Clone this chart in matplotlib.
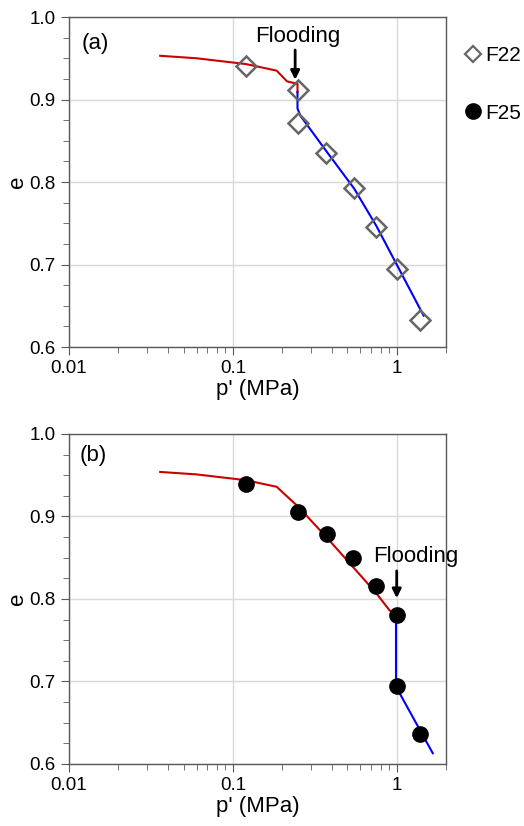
import matplotlib
matplotlib.use("Agg")
import matplotlib.pyplot as plt
from matplotlib.lines import Line2D
from matplotlib.ticker import FixedLocator, MultipleLocator, NullFormatter, FuncFormatter

plt.rcParams["font.family"] = ["Liberation Sans", "DejaVu Sans"]

# panel (a): test F22, flooding at p' = 0.25 MPa
f22_p = [0.12, 0.25, 0.25, 0.37, 0.55, 0.75, 1.0, 1.38]
f22_e = [0.941, 0.911, 0.872, 0.835, 0.793, 0.745, 0.694, 0.633]
a_dry_p = [0.036, 0.06, 0.12, 0.185, 0.214, 0.248, 0.248]
a_dry_e = [0.953, 0.950, 0.943, 0.935, 0.922, 0.919, 0.909]
a_wet_p = [0.248, 0.248, 0.259, 0.37, 0.55, 0.75, 1.0, 1.46]
a_wet_e = [0.909, 0.889, 0.880, 0.838, 0.792, 0.747, 0.700, 0.638]

# panel (b): test F25, flooding at p' = 1.0 MPa
f25_p = [0.12, 0.25, 0.376, 0.54, 0.75, 1.0, 1.0, 1.38]
f25_e = [0.939, 0.906, 0.879, 0.850, 0.816, 0.781, 0.694, 0.636]
b_dry_p = [0.036, 0.06, 0.12, 0.185, 0.25, 0.376, 0.54, 0.75, 0.906, 0.99]
b_dry_e = [0.954, 0.951, 0.944, 0.936, 0.912, 0.874, 0.839, 0.807, 0.786, 0.782]
b_wet_p = [0.99, 0.99, 1.04, 1.66]
b_wet_e = [0.782, 0.694, 0.686, 0.613]

RED = "#cc0000"
BLUE = "#0000ff"

fig = plt.figure(figsize=(5.24, 8.26), dpi=100)
ax_a = fig.add_axes([0.1317, 0.5799, 0.7195, 0.3995])
ax_b = fig.add_axes([0.1317, 0.0751, 0.7195, 0.3995])


def style_axes(ax):
    ax.set_xscale("log")
    ax.set_xlim(0.01, 2)
    ax.set_ylim(0.6, 1.0)
    ax.xaxis.set_major_locator(FixedLocator([0.01, 0.1, 1]))
    ax.xaxis.set_major_formatter(FuncFormatter(lambda v, _: f"{v:g}"))
    ax.xaxis.set_minor_locator(FixedLocator([k * 0.01 for k in range(2, 10)] + [k * 0.1 for k in range(2, 10)] + [2]))
    ax.xaxis.set_minor_formatter(NullFormatter())
    ax.yaxis.set_major_locator(MultipleLocator(0.1))
    ax.yaxis.set_minor_locator(MultipleLocator(0.025))
    ax.yaxis.set_major_formatter(FuncFormatter(lambda v, _: f"{v:.1f}"))
    ax.grid(True, which="major", color="#d9d9d9", lw=1.0)
    ax.set_axisbelow(True)
    for sp in ax.spines.values():
        sp.set_color("#595959")
        sp.set_linewidth(1.0)
    ax.tick_params(which="both", direction="out", color="#595959", labelsize=13.5, top=False, right=False)
    ax.tick_params(which="major", length=6)
    ax.tick_params(which="minor", length=4)
    ax.set_xlabel("p' (MPa)", fontsize=16, labelpad=1)
    ax.set_ylabel("e", fontsize=16, labelpad=1)


style_axes(ax_a)
style_axes(ax_b)

ax_a.plot(a_dry_p, a_dry_e, color=RED, lw=1.5, zorder=3)
ax_a.plot(a_wet_p, a_wet_e, color=BLUE, lw=1.5, zorder=3)
ax_a.plot(f22_p, f22_e, ls="none", marker="D", ms=10, mfc="none", mec="#666666", mew=1.8, zorder=4)
ax_a.text(0.069, 0.92, "(a)", transform=ax_a.transAxes, fontsize=16, ha="center", va="center")
ax_a.text(0.25, 0.976, "Flooding", fontsize=16, ha="center", va="center")
ax_a.annotate("", xy=(0.24, 0.924), xytext=(0.24, 0.96),
              arrowprops=dict(arrowstyle="-|>", color="black", lw=2.0, mutation_scale=13, shrinkA=0, shrinkB=0))

ax_b.plot(b_dry_p, b_dry_e, color=RED, lw=1.5, zorder=3)
ax_b.plot(b_wet_p, b_wet_e, color=BLUE, lw=1.5, zorder=3)
ax_b.plot(f25_p, f25_e, ls="none", marker="o", ms=11, mfc="black", mec="black", zorder=4)
ax_b.text(0.063, 0.936, "(b)", transform=ax_b.transAxes, fontsize=16, ha="center", va="center")
ax_b.text(1.30, 0.851, "Flooding", fontsize=16, ha="center", va="center")
ax_b.annotate("", xy=(1.0, 0.801), xytext=(1.0, 0.834),
              arrowprops=dict(arrowstyle="-|>", color="black", lw=2.0, mutation_scale=13, shrinkA=0, shrinkB=0))

handles = [
    Line2D([], [], ls="none", marker="D", ms=8.5, mfc="none", mec="#666666", mew=1.6),
    Line2D([], [], ls="none", marker="o", ms=11, mfc="black", mec="black"),
]
ax_a.legend(handles, ["F22", "F25"], loc="upper left", bbox_to_anchor=(1.056, 0.912), frameon=False,
            fontsize=15, handlelength=0.6, handletextpad=0.25, labelspacing=1.85,
            borderaxespad=0, borderpad=0)

fig.savefig("out.png", dpi=100)
